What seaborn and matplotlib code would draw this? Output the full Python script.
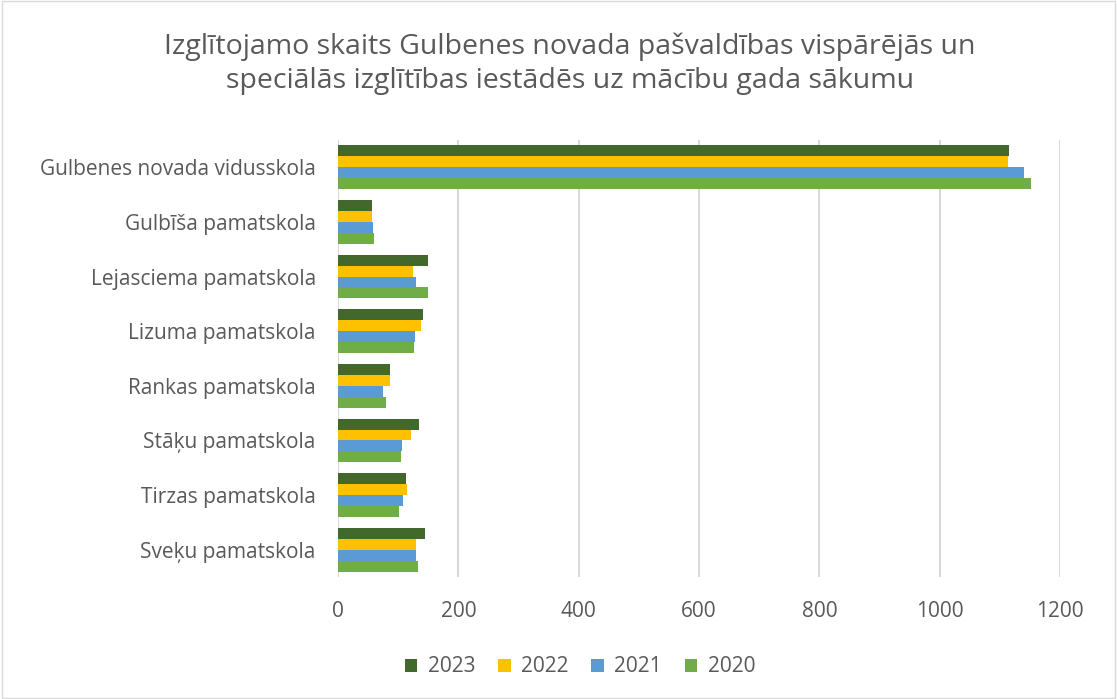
import pandas as pd
import seaborn as sns
import matplotlib.pyplot as plt
from matplotlib.patches import Rectangle

schools = ["Gulbenes novada vidusskola", "Gulbīša pamatskola", "Lejasciema pamatskola",
           "Lizuma pamatskola", "Rankas pamatskola", "Stāķu pamatskola",
           "Tirzas pamatskola", "Sveķu pamatskola"]
years = ["2023", "2022", "2021", "2020"]
v2023 = [1115, 56, 149, 142, 86, 134, 113, 145]
v2022 = [1113, 56, 124, 138, 87, 122, 115, 130]
v2021 = [1140, 59, 130, 128, 74, 106, 108, 129]
v2020 = [1152, 60, 149, 127, 79, 104, 102, 133]
colors = ["#43682B", "#FFC000", "#5B9BD5", "#70AD47"]

rows = []
for y, vals in zip(years, [v2023, v2022, v2021, v2020]):
    for s, v in zip(schools, vals):
        rows.append({"school": s, "year": y, "count": v})
df = pd.DataFrame(rows)

sns.set_style("white")
plt.rcParams["font.family"] = ["Open Sans", "DejaVu Sans"]

fig = plt.figure(figsize=(11.17, 6.99), dpi=100)
ax = fig.add_axes([338 / 1117, 1 - 577 / 699, (1060 - 338) / 1117, (577 - 140) / 699])

sns.barplot(data=df, y="school", x="count", hue="year", order=schools,
            hue_order=years, palette=colors, saturation=1, orient="h", width=0.8,
            ax=ax, edgecolor="none", linewidth=0)

ax.set_xlim(0, 1200)
ax.set_xticks(range(0, 1201, 200))
ax.xaxis.grid(True, color="#D9D9D9", linewidth=1.5)
ax.set_axisbelow(True)
for sp in ax.spines.values():
    sp.set_visible(False)
ax.set_xlabel("")
ax.set_ylabel("")
ax.tick_params(axis="both", length=0, labelsize=15, labelcolor="#595959")
ax.tick_params(axis="y", pad=16)
ax.tick_params(axis="x", pad=17)

leg = ax.legend(loc="center", bbox_to_anchor=(580 / 1117, 1 - 667 / 699),
                bbox_transform=fig.transFigure, ncol=4, frameon=False,
                fontsize=15, handlelength=0.6, handleheight=0.6,
                columnspacing=1.1, handletextpad=0.5)
for t in leg.get_texts():
    t.set_color("#595959")

fig.text(570 / 1117, 1 - 64 / 699,
         "Izglītojamo skaits Gulbenes novada pašvaldības vispārējās un\n"
         "speciālās izglītības iestādēs uz mācību gada sākumu",
         ha="center", va="center", fontsize=20.5, color="#595959", linespacing=1.3)

fig.patches.append(Rectangle((0.002, 0.002), 0.996, 0.996, transform=fig.transFigure,
                             fill=False, edgecolor="#D9D9D9", linewidth=1))

fig.savefig("out.png", dpi=100)
